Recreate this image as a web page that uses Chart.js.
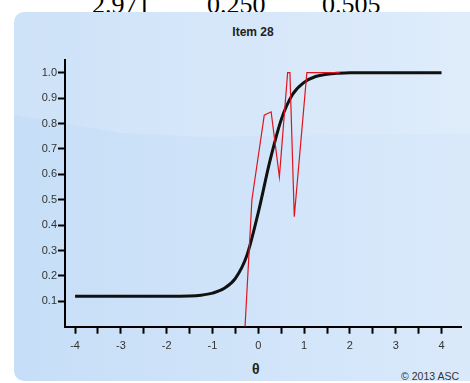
<!DOCTYPE html>
<html>
<head>
<meta charset="utf-8">
<script src="https://cdn.jsdelivr.net/npm/chart.js@4"></script>
<style>
  html, body { margin: 0; padding: 0; width: 470px; height: 383px; overflow: hidden; background: #fff; }
  #top { position: absolute; top: -10px; left: 0; font: 26px "Liberation Serif", "Times New Roman", serif; color: #000; }
  #top span { position: absolute; top: 0; white-space: nowrap; }
  #panel { position: absolute; left: 14px; top: 12px; width: 480px; height: 369px; border-radius: 10px;
           background: linear-gradient(to right, #c6def7, #dbeafb); overflow: hidden; }
  #gloss { position: absolute; left: 0; top: 0; width: 100%; height: 100%; background: rgba(255,255,255,0.14);
           clip-path: polygon(0 0, 100% 0, 100% 121px, 186px 125px, 106px 121px, 0 103px); }
  #title { position: absolute; top: 25px; left: 0; width: 506px; text-align: center;
           font: bold 12px "Liberation Sans", Arial, sans-serif; color: #222; }
  #theta { position: absolute; top: 361px; left: 252px; font: bold 14px "Liberation Sans", Arial, sans-serif; color: #222; }
  #copy { position: absolute; right: 11px; top: 370px; font: 10.5px "Liberation Sans", Arial, sans-serif; color: #333; }
  #wrap { position: absolute; left: 0; top: 0; width: 470px; height: 383px; }
</style>
</head>
<body>
<div id="top"><span style="left:92px">2.971</span><span style="left:207px">0.250</span><span style="left:322px">0.505</span></div>
<div id="panel"><div id="gloss"></div></div>
<div id="title">Item 28</div>
<div id="theta">θ</div>
<div id="copy">© 2013 ASC</div>
<div id="wrap"><canvas id="irtChart" width="470" height="383"></canvas></div>
<script>
// model curve (black)
const thetaModel = [-4, -3.5, -3, -2.5, -2, -1.5, -1.25, -1, -0.75, -0.5, -0.25, 0, 0.25, 0.5, 0.75, 1, 1.25, 1.5, 1.75, 2, 2.5, 3, 3.5, 4];
const probModel = [0.12, 0.12, 0.12, 0.12, 0.12, 0.121, 0.124, 0.132, 0.15, 0.19, 0.28, 0.45, 0.65, 0.815, 0.915, 0.962, 0.985, 0.994, 0.998, 1, 1, 1, 1, 1];

// observed proportions (red)
const thetaObs = [-0.29, -0.14, 0.13, 0.28, 0.46, 0.64, 0.69, 0.785, 1.06, 1.78];
const probObs = [0, 0.5, 0.833, 0.846, 0.59, 1, 1, 0.433, 1, 1];

const toPoints = (xs, ys) => xs.map((x, i) => ({ x: x, y: ys[i] }));

const tickFont = { family: '"Liberation Sans", Arial, sans-serif', size: 11 };

new Chart(document.getElementById('irtChart'), {
  type: 'line',
  data: {
    datasets: [
      {
        label: 'observed',
        data: toPoints(thetaObs, probObs),
        borderColor: '#e0141e',
        borderWidth: 1.2,
        pointRadius: 0,
        tension: 0
      },
      {
        label: 'model',
        data: toPoints(thetaModel, probModel),
        borderColor: '#111',
        borderWidth: 3,
        pointRadius: 0,
        cubicInterpolationMode: 'monotone'
      }
    ]
  },
  options: {
    responsive: false,
    animation: false,
    layout: { padding: { top: 60, right: 8.3, left: 0, bottom: 0 } },
    scales: {
      x: {
        type: 'linear',
        min: -4.22,
        max: 4.44,
        afterFit: s => { s.height = 56.3; },
        border: { color: '#000', width: 2 },
        grid: { drawOnChartArea: false, drawTicks: true, tickLength: 7, tickColor: '#000', tickWidth: 2 },
        ticks: {
          stepSize: 0.5,
          includeBounds: false,
          autoSkip: false,
          maxRotation: 0,
          padding: 6,
          color: '#333',
          font: tickFont,
          callback: v => Number.isInteger(v) ? String(v) : ''
        }
      },
      y: {
        min: 0,
        max: 1.05,
        afterFit: s => { s.width = 65; },
        afterBuildTicks: s => { s.ticks = s.ticks.filter(t => t.value > 0.05 && t.value < 1.01); },
        border: { color: '#000', width: 2 },
        grid: { drawOnChartArea: false, drawTicks: true, tickLength: 7, tickColor: '#000', tickWidth: 2 },
        ticks: {
          stepSize: 0.1,
          includeBounds: false,
          padding: 1,
          color: '#333',
          font: tickFont,
          callback: v => v.toFixed(1)
        }
      }
    },
    plugins: { legend: { display: false }, tooltip: { enabled: false } }
  }
});
</script>
</body>
</html>
